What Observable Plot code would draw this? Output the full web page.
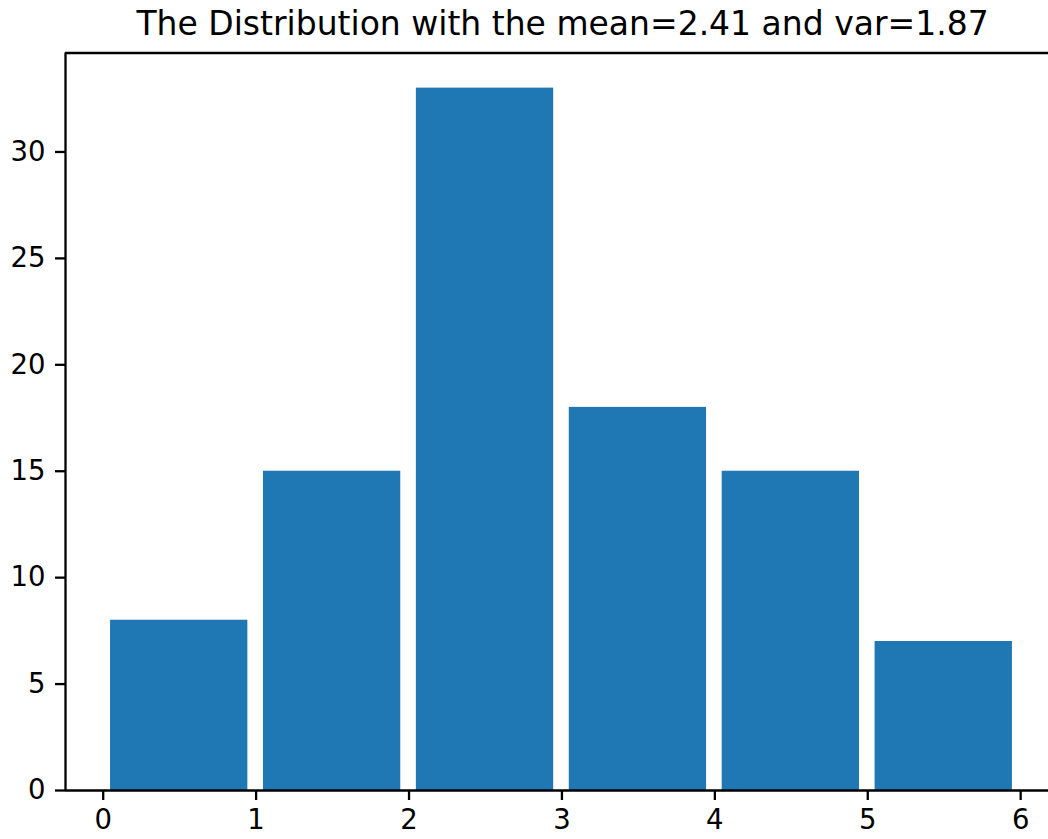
<!DOCTYPE html>
<html>
<head>
<meta charset="utf-8">
<script src="https://cdn.jsdelivr.net/npm/d3@7"></script>
<script src="https://cdn.jsdelivr.net/npm/@observablehq/plot@0.6"></script>
<style>
  html, body { margin: 0; padding: 0; background: #fff; }
  #wrap { position: relative; width: 1048px; height: 839px; overflow: hidden; }
  #title { position: absolute; left: 0; top: 0; width: 1125px; text-align: center;
           font-family: "DejaVu Sans", sans-serif; font-size: 33px; line-height: 47px; color: #000; }
</style>
</head>
<body>
<div id="wrap">
  <div id="title">The Distribution with the mean=2.41 and var=1.87</div>
</div>
<script>
const binStarts = [0, 1, 2, 3, 4, 5];
const counts = [8, 15, 33, 18, 15, 7];
const xTicks = [0, 1, 2, 3, 4, 5, 6];
const yTicks = [0, 5, 10, 15, 20, 25, 30];

const data = binStarts.map((b, i) => ({x1: b + 0.048, x2: b + 0.946, y: counts[i]}));
const xMin = -0.2466, yMax = 34.65;

const chart = Plot.plot({
  width: 1048,
  height: 839,
  marginLeft: 65,
  marginRight: 0,
  marginTop: 52.5,
  marginBottom: 49,
  style: {fontFamily: "DejaVu Sans, sans-serif", fontSize: "27.5px", color: "#000", background: "#fff"},
  x: {domain: [xMin, 6.182]},
  y: {domain: [0, yMax]},
  marks: [
    Plot.rectY(data, {x1: "x1", x2: "x2", y: "y", fill: "#1f77b4", inset: 0}),
    Plot.axisX({ticks: xTicks, tickSize: 10, tickPadding: 9, strokeWidth: 2.3, label: null, tickFormat: d3.format("d")}),
    Plot.axisY({ticks: yTicks, tickSize: 10, tickPadding: 10, strokeWidth: 2.3, label: null, tickFormat: d3.format("d")}),
    Plot.ruleX([xMin], {stroke: "#000", strokeWidth: 2.3}),
    Plot.ruleY([0], {stroke: "#000", strokeWidth: 2.3}),
    Plot.ruleY([yMax], {stroke: "#000", strokeWidth: 2.3})
  ]
});
chart.style.position = "absolute";
chart.style.left = "0";
chart.style.top = "0";
document.getElementById("wrap").prepend(chart);
</script>
</body>
</html>
